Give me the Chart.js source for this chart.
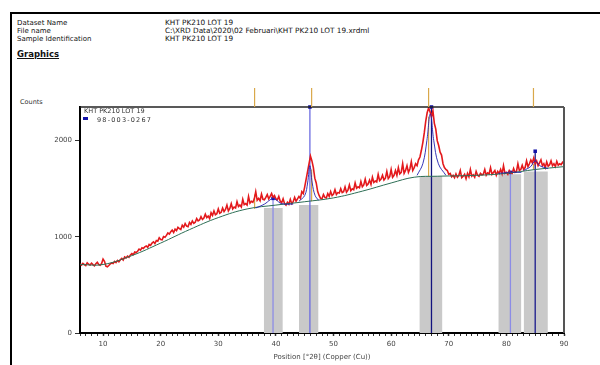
<!DOCTYPE html>
<html>
<head>
<meta charset="utf-8">
<script src="https://cdn.jsdelivr.net/npm/chart.js@4"></script>
<style>
  html, body { margin: 0; padding: 0; background: #fff; }
  body { width: 600px; height: 365px; position: relative; overflow: hidden; font-family: "DejaVu Sans", sans-serif; color: #111; }
  .frame { position: absolute; left: 10px; top: 12px; width: 620px; height: 400px; border: 2px solid #000; }
  .t { position: absolute; font-size: 7px; line-height: 8px; white-space: nowrap; }
  .v { position: absolute; font-size: 7.3px; line-height: 8px; white-space: nowrap; }
  #graphics { position: absolute; left: 17px; top: 49px; font-size: 8.5px; font-weight: bold; text-decoration: underline; }
  #counts { position: absolute; left: 20px; top: 98px; font-size: 6.5px; color: #333; }
  #lg1 { position: absolute; left: 84px; top: 107px; font-size: 6.5px; color: #333; }
  #lgsq { position: absolute; left: 83px; top: 117px; width: 5px; height: 3px; background: #1212a8; }
  #lg2 { position: absolute; left: 97px; top: 116px; font-size: 6.5px; color: #333; letter-spacing: 1.2px; }
  canvas { position: absolute; left: 0; top: 0; }
</style>
</head>
<body>
<div class="frame"></div>
<div class="t" style="left:17px;top:19px">Dataset Name</div>
<div class="t" style="left:17px;top:27px">File name</div>
<div class="t" style="left:17px;top:35px">Sample Identification</div>
<div class="v" style="left:165px;top:19px">KHT PK210 LOT 19</div>
<div class="v" style="left:165px;top:27px">C:\XRD Data\2020\02 Februari\KHT PK210 LOT 19.xrdml</div>
<div class="v" style="left:165px;top:35px">KHT PK210 LOT 19</div>
<div id="graphics">Graphics</div>
<div id="counts">Counts</div>
<canvas id="xrd" width="600" height="365"></canvas>
<div id="lg1">KHT PK210 LOT 19</div>
<div id="lgsq"></div>
<div id="lg2">98-003-0267</div>

<script>
const scanAngle = [
  6.00, 6.25, 6.50, 6.75, 7.00, 7.25, 7.50, 7.75, 8.00, 8.25, 8.50, 8.75, 9.00, 9.25, 9.50, 9.75, 10.00, 10.25, 10.50, 10.75,
  11.00, 11.25, 11.50, 11.75, 12.00, 12.25, 12.50, 12.75, 13.00, 13.25, 13.50, 13.75, 14.00, 14.25, 14.50, 14.75, 15.00, 15.25, 15.50, 15.75,
  16.00, 16.25, 16.50, 16.75, 17.00, 17.25, 17.50, 17.75, 18.00, 18.25, 18.50, 18.75, 19.00, 19.25, 19.50, 19.75, 20.00, 20.25, 20.50, 20.75,
  21.00, 21.25, 21.50, 21.75, 22.00, 22.25, 22.50, 22.75, 23.00, 23.25, 23.50, 23.75, 24.00, 24.25, 24.50, 24.75, 25.00, 25.25, 25.50, 25.75,
  26.00, 26.25, 26.50, 26.75, 27.00, 27.25, 27.50, 27.75, 28.00, 28.25, 28.50, 28.75, 29.00, 29.25, 29.50, 29.75, 30.00, 30.25, 30.50, 30.75,
  31.00, 31.25, 31.50, 31.75, 32.00, 32.25, 32.50, 32.75, 33.00, 33.25, 33.50, 33.75, 34.00, 34.25, 34.50, 34.75, 35.00, 35.25, 35.50, 35.75,
  36.00, 36.25, 36.50, 36.75, 37.00, 37.25, 37.50, 37.75, 38.00, 38.25, 38.50, 38.75, 39.00, 39.25, 39.50, 39.75, 40.00, 40.25, 40.50, 40.75,
  41.00, 41.25, 41.50, 41.75, 42.00, 42.25, 42.50, 42.75, 43.00, 43.25, 43.50, 43.75, 44.00, 44.25, 44.50, 44.75, 45.00, 45.25, 45.50, 45.75,
  46.00, 46.25, 46.50, 46.75, 47.00, 47.25, 47.50, 47.75, 48.00, 48.25, 48.50, 48.75, 49.00, 49.25, 49.50, 49.75, 50.00, 50.25, 50.50, 50.75,
  51.00, 51.25, 51.50, 51.75, 52.00, 52.25, 52.50, 52.75, 53.00, 53.25, 53.50, 53.75, 54.00, 54.25, 54.50, 54.75, 55.00, 55.25, 55.50, 55.75,
  56.00, 56.25, 56.50, 56.75, 57.00, 57.25, 57.50, 57.75, 58.00, 58.25, 58.50, 58.75, 59.00, 59.25, 59.50, 59.75, 60.00, 60.25, 60.50, 60.75,
  61.00, 61.25, 61.50, 61.75, 62.00, 62.25, 62.50, 62.75, 63.00, 63.25, 63.50, 63.75, 64.00, 64.25, 64.50, 64.75, 65.00, 65.25, 65.50, 65.75,
  66.00, 66.25, 66.50, 66.75, 67.00, 67.25, 67.50, 67.75, 68.00, 68.25, 68.50, 68.75, 69.00, 69.25, 69.50, 69.75, 70.00, 70.25, 70.50, 70.75,
  71.00, 71.25, 71.50, 71.75, 72.00, 72.25, 72.50, 72.75, 73.00, 73.25, 73.50, 73.75, 74.00, 74.25, 74.50, 74.75, 75.00, 75.25, 75.50, 75.75,
  76.00, 76.25, 76.50, 76.75, 77.00, 77.25, 77.50, 77.75, 78.00, 78.25, 78.50, 78.75, 79.00, 79.25, 79.50, 79.75, 80.00, 80.25, 80.50, 80.75,
  81.00, 81.25, 81.50, 81.75, 82.00, 82.25, 82.50, 82.75, 83.00, 83.25, 83.50, 83.75, 84.00, 84.25, 84.50, 84.75, 85.00, 85.25, 85.50, 85.75,
  86.00, 86.25, 86.50, 86.75, 87.00, 87.25, 87.50, 87.75, 88.00, 88.25, 88.50, 88.75, 89.00, 89.25, 89.50, 89.75, 90.00
];
const scanCounts = [
  718, 706, 724, 712, 702, 730, 715, 708, 726, 711, 698, 720, 735, 712, 705, 722, 768, 745, 695, 688,
  702, 718, 728, 722, 745, 732, 755, 740, 762, 775, 758, 790, 780, 800, 788, 812, 826, 815, 842, 836,
  850, 872, 862, 885, 878, 896, 905, 890, 922, 912, 935, 948, 930, 962, 955, 990, 972, 968, 1002, 995,
  1015, 1040, 1028, 1052, 1070, 1045, 1080, 1065, 1098, 1085, 1075, 1120, 1100, 1138, 1112, 1105, 1150, 1130, 1165, 1140,
  1152, 1190, 1165, 1175, 1210, 1180, 1195, 1235, 1200, 1215, 1190, 1250, 1222, 1270, 1230, 1240, 1290, 1245, 1255, 1300,
  1262, 1285, 1330, 1270, 1295, 1345, 1290, 1310, 1300, 1365, 1315, 1330, 1310, 1390, 1335, 1345, 1330, 1420, 1350, 1370,
  1360, 1395, 1470, 1380, 1400, 1375, 1445, 1390, 1385, 1410, 1440, 1395, 1420, 1450, 1410, 1430, 1395, 1385, 1420, 1370,
  1355, 1395, 1345, 1330, 1360, 1340, 1390, 1345, 1365, 1410, 1370, 1395, 1420, 1400, 1470, 1450, 1520, 1600, 1680, 1760,
  1840, 1790, 1720, 1610, 1560, 1470, 1430, 1400, 1395, 1440, 1410, 1405, 1450, 1420, 1470, 1430, 1445, 1490, 1440, 1460,
  1455, 1500, 1460, 1470, 1520, 1465, 1485, 1540, 1480, 1500, 1490, 1560, 1505, 1520, 1510, 1575, 1520, 1540, 1600, 1535,
  1550, 1590, 1545, 1620, 1565, 1580, 1570, 1650, 1585, 1600, 1640, 1590, 1610, 1680, 1605, 1625, 1700, 1620, 1640, 1690,
  1640, 1720, 1655, 1670, 1760, 1660, 1690, 1740, 1670, 1705, 1780, 1690, 1720, 1760, 1740, 1800, 1830, 1900, 1980, 2080,
  2200, 2290, 2340, 2300, 2250, 2310, 2180, 2120, 2000, 1950, 1880, 1850, 1760, 1720, 1700, 1690, 1650, 1660, 1625, 1640,
  1615, 1655, 1620, 1640, 1690, 1615, 1630, 1650, 1605, 1660, 1625, 1700, 1630, 1645, 1620, 1680, 1640, 1630, 1660, 1645,
  1650, 1700, 1640, 1665, 1655, 1720, 1650, 1670, 1690, 1640, 1680, 1660, 1700, 1655, 1740, 1660, 1670, 1650, 1690, 1665,
  1660, 1710, 1670, 1680, 1760, 1690, 1700, 1745, 1700, 1720, 1790, 1730, 1760, 1800, 1770, 1820, 1760, 1790, 1740, 1770,
  1800, 1740, 1760, 1720, 1780, 1735, 1750, 1790, 1740, 1760, 1730, 1785, 1745, 1760, 1750, 1775, 1760
];

// background line under the scan
const bgAngle = [6, 10, 15, 20, 25, 30, 35, 40, 45, 50, 55, 60, 64, 68, 75, 80, 85, 90];
const bgCounts = [712, 712, 805, 935, 1075, 1200, 1290, 1330, 1365, 1405, 1475, 1560, 1620, 1630, 1640, 1660, 1700, 1730];

// fitted peak profiles
const fitAngle = [
  [36.5, 38.0, 39.0, 39.5, 40.0, 41.0, 43.0],
  [44.0, 45.0, 45.5, 45.9, 46.3, 46.8, 47.4],
  [64.5, 65.5, 66.2, 66.8, 67.4, 68.2, 69.5],
  [78.6, 80.0, 80.7, 81.4, 82.6],
  [83.0, 84.2, 85.0, 85.8, 87.2]
];
const fitCounts = [
  [1300, 1340, 1385, 1400, 1385, 1345, 1340],
  [1370, 1430, 1560, 1740, 1560, 1430, 1380],
  [1640, 1760, 2000, 2280, 2000, 1760, 1640],
  [1660, 1668, 1675, 1672, 1670],
  [1690, 1730, 1790, 1740, 1710]
];

// grey fit ranges
const bandStart = [37.9, 44.0, 64.9, 78.6, 83.0];
const bandEnd = [41.2, 47.4, 68.9, 82.6, 87.2];
const bandTop = [1300, 1330, 1630, 1650, 1680];

// reference pattern 98-003-0267 sticks
const refAngle = [39.5, 45.9, 67.0, 80.7, 85.0];
const refCounts = [1400, 2350, 2350, 1670, 1890];
const refColor = ['#8c8ce6', '#6b6be0', '#12127e', '#8c8ce6', '#1a1a8c'];

// peak list markers (above the plot, and the stick inside at the first one)
const peakAngle = [36.3, 46.2, 66.5, 84.7];
const peakLow = [1290, 1370, 1630, 1700];
const peakHigh = [1440, 1700, 2250, 1760];

const yTicks = [0, 1000, 2000];

const datasets = [];

bandStart.forEach((s, i) => {
  datasets.push({
    data: [{ x: s, y: bandTop[i] }, { x: bandEnd[i], y: bandTop[i] }],
    borderWidth: 0,
    pointRadius: 0,
    backgroundColor: '#c9c9c9',
    fill: 'origin',
    order: 6
  });
});

peakAngle.forEach((a, i) => {
  datasets.push({
    data: [{ x: a, y: peakLow[i] }, { x: a, y: peakHigh[i] }],
    borderColor: '#d9a84a',
    borderWidth: 1.2,
    pointRadius: 0,
    fill: false,
    order: 5
  });
});

refAngle.forEach((a, i) => {
  datasets.push({
    data: [{ x: a, y: 0 }, { x: a, y: refCounts[i] }],
    borderColor: refColor[i],
    borderWidth: 1.3,
    pointRadius: [0, 2.5],
    pointStyle: 'rect',
    pointBackgroundColor: '#1212a8',
    pointBorderWidth: 0,
    fill: false,
    clip: false,
    order: 4
  });
});

datasets.push({
  data: scanAngle.map((a, i) => ({ x: a, y: scanCounts[i] })),
  borderColor: '#e3191c',
  borderWidth: 1.6,
  pointRadius: 0,
  tension: 0,
  fill: false,
  order: 3
});

datasets.push({
  data: bgAngle.map((a, i) => ({ x: a, y: bgCounts[i] })),
  borderColor: '#2d6e55',
  borderWidth: 1,
  pointRadius: 0,
  tension: 0.4,
  fill: false,
  order: 2
});

fitAngle.forEach((arr, k) => {
  datasets.push({
    data: arr.map((a, i) => ({ x: a, y: fitCounts[k][i] })),
    borderColor: '#2020b0',
    borderWidth: 0.9,
    pointRadius: 0,
    tension: 0.4,
    fill: false,
    order: 1
  });
});

const plotFrame = {
  id: 'plotFrame',
  afterDraw(chart) {
    const { ctx, chartArea: a, scales } = chart;
    ctx.save();
    ctx.strokeStyle = '#222';
    ctx.lineWidth = 1.5;
    ctx.beginPath();
    ctx.moveTo(a.left, a.top);
    ctx.lineTo(a.right, a.top);
    ctx.stroke();
    ctx.strokeStyle = '#555';
    ctx.lineWidth = 2;
    ctx.beginPath();
    ctx.moveTo(a.right, a.top);
    ctx.lineTo(a.right, a.bottom);
    ctx.stroke();
    ctx.strokeStyle = '#d9a84a';
    ctx.lineWidth = 1.2;
    peakAngle.forEach(p => {
      const x = scales.x.getPixelForValue(p);
      ctx.beginPath();
      ctx.moveTo(x, a.top - 19);
      ctx.lineTo(x, a.top);
      ctx.stroke();
    });
    ctx.restore();
  }
};

new Chart(document.getElementById('xrd'), {
  type: 'line',
  data: { datasets },
  options: {
    responsive: false,
    animation: false,
    layout: { padding: { left: 50, top: 107, right: 36, bottom: 2 } },
    plugins: { legend: { display: false }, tooltip: { enabled: false } },
    scales: {
      x: {
        type: 'linear',
        min: 6,
        max: 90,
        afterFit: s => { s.height = 30; },
        border: { color: '#000', width: 2 },
        grid: {
          drawOnChartArea: false,
          tickLength: 3,
          tickColor: '#333',
          tickWidth: c => (c.tick && c.tick.value % 10 === 0 ? 1.5 : 1)
        },
        ticks: {
          stepSize: 1,
          autoSkip: false,
          maxRotation: 0,
          padding: 4,
          color: '#444',
          font: { family: 'DejaVu Sans', size: 7 },
          callback: v => (v % 10 === 0 ? String(v) : '')
        },
        title: {
          display: true,
          text: 'Position [°2θ] (Copper (Cu))',
          color: '#444',
          font: { family: 'DejaVu Sans', size: 7 },
          padding: { top: 0, bottom: 2 }
        }
      },
      y: {
        min: 0,
        max: 2350,
        afterFit: s => { s.width = 30; },
        afterBuildTicks: s => { s.ticks = yTicks.map(v => ({ value: v })); },
        border: { color: '#000', width: 2 },
        grid: { drawOnChartArea: false, tickLength: 5, tickColor: '#333' },
        ticks: {
          padding: 3,
          color: '#444',
          font: { family: 'DejaVu Sans', size: 7 },
          callback: v => String(v)
        }
      }
    }
  },
  plugins: [plotFrame]
});
</script>
</body>
</html>
